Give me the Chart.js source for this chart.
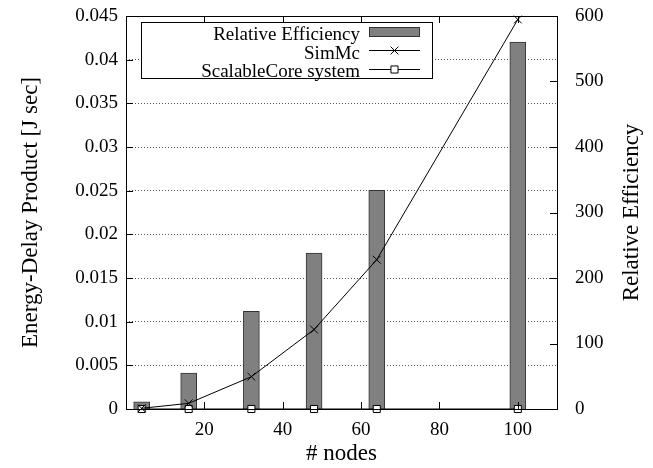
<!DOCTYPE html>
<html>
<head>
<meta charset="utf-8">
<title>Energy-Delay Product</title>
<style>
  html, body { margin: 0; padding: 0; background: #fff; }
  #wrap { width: 653px; height: 468px; }
</style>
</head>
<body>
<div id="wrap"><canvas id="edpChart" width="653" height="468"></canvas></div>

<script src="https://cdn.jsdelivr.net/npm/chart.js@4.4.0/dist/chart.umd.min.js"></script>
<script>
// values
var nodes = [4, 16, 32, 48, 64, 100];
var relativeEfficiency = [11, 55, 149, 238, 334, 560];
var simMc = [0.00008, 0.00065, 0.0037, 0.0091, 0.0171, 0.0446];
var scalableCore = [0, 0, 0, 0, 0, 0];

var xTicks = [20, 40, 60, 80, 100];
var leftTicks = [0, 0.005, 0.01, 0.015, 0.02, 0.025, 0.03, 0.035, 0.04, 0.045];
var rightTicks = [0, 100, 200, 300, 400, 500, 600];

var serif = "'Liberation Serif', 'DejaVu Serif', serif";

function points(ys) {
  return nodes.map(function (n, i) { return { x: n, y: ys[i] }; });
}

function useTicks(list) {
  return function (scale) {
    scale.ticks = list.map(function (v) { return { value: v }; });
  };
}

function fixWidth(w) {
  return function (s) {
    s.width = w;
    s.paddingTop = 0;
    s.paddingBottom = 0;
  };
}

// box round the plot and gnuplot-style inward tick marks
var framePlugin = {
  id: 'frame',
  afterDatasetsDraw: function (chart) {
    var ctx = chart.ctx, a = chart.chartArea;
    var sx = chart.scales.x, sy = chart.scales.y, sy1 = chart.scales.y1;
    var len = 7;
    ctx.save();
    ctx.strokeStyle = '#000';
    ctx.lineWidth = 1;
    ctx.beginPath();
    xTicks.forEach(function (v) {
      var px = Math.round(sx.getPixelForValue(v)) + 0.5;
      ctx.moveTo(px, a.bottom); ctx.lineTo(px, a.bottom - len);
      ctx.moveTo(px, a.top); ctx.lineTo(px, a.top + len);
    });
    leftTicks.forEach(function (v) {
      var py = Math.round(sy.getPixelForValue(v)) + 0.5;
      ctx.moveTo(a.left, py); ctx.lineTo(a.left + len, py);
    });
    rightTicks.forEach(function (v) {
      var py = Math.round(sy1.getPixelForValue(v)) + 0.5;
      ctx.moveTo(a.right, py); ctx.lineTo(a.right - len, py);
    });
    ctx.stroke();
    ctx.strokeRect(a.left + 0.5, a.top + 0.5, a.right - a.left, a.bottom - a.top);

    // right axis title reads bottom to top, like the left one
    ctx.fillStyle = '#000';
    ctx.font = '23px ' + serif;
    ctx.textAlign = 'center';
    ctx.textBaseline = 'middle';
    ctx.translate(632, (a.top + a.bottom) / 2);
    ctx.rotate(-Math.PI / 2);
    ctx.fillText('Relative Efficiency', 0, 0);
    ctx.restore();
  }
};

// legend box in the upper left of the plot, text right-aligned, sample on the right
var legendBox = {
  id: 'legendBox',
  afterDraw: function (chart) {
    var ctx = chart.ctx, a = chart.chartArea;
    var bx = a.left + 15, by = a.top + 6, bw = 291, bh = 56;
    var textRight = bx + 219, sx0 = bx + 228, sx1 = bx + 279;
    ctx.save();
    ctx.fillStyle = '#fff';
    ctx.fillRect(bx, by, bw, bh);
    ctx.strokeStyle = '#000';
    ctx.lineWidth = 1;
    ctx.strokeRect(bx + 0.5, by + 0.5, bw, bh);
    ctx.font = '19px ' + serif;
    ctx.textAlign = 'right';
    ctx.textBaseline = 'alphabetic';
    chart.data.datasets.forEach(function (ds, i) {
      var base = by + 18 + i * 18.7;
      var cy = Math.round(base - 8.5);
      ctx.fillStyle = '#000';
      ctx.fillText(ds.label, textRight, base);
      if (ds.type === 'bar') {
        ctx.fillStyle = ds.backgroundColor;
        ctx.fillRect(sx0, cy - 5, sx1 - sx0, 10);
        ctx.strokeStyle = ds.borderColor;
        ctx.strokeRect(sx0 + 0.5, cy - 4.5, sx1 - sx0 - 1, 9);
      } else {
        ctx.strokeStyle = '#000';
        ctx.beginPath();
        ctx.moveTo(sx0, cy + 0.5);
        ctx.lineTo(sx1, cy + 0.5);
        ctx.stroke();
        ctx.fillStyle = ds.pointBackgroundColor;
        ctx.strokeStyle = ds.pointBorderColor;
        ctx.lineWidth = 1;
        Chart.helpers.drawPoint(ctx, {
          pointStyle: ds.pointStyle, radius: ds.pointRadius, rotation: 0, borderWidth: 1
        }, (sx0 + sx1) / 2, cy + 0.5);
      }
    });
    ctx.restore();
  }
};

new Chart(document.getElementById('edpChart').getContext('2d'), {
  type: 'bar',
  data: {
    datasets: [{
      type: 'bar',
      label: 'Relative Efficiency',
      data: points(relativeEfficiency),
      yAxisID: 'y1',
      backgroundColor: '#808080',
      borderColor: '#333',
      borderWidth: 1,
      barThickness: 16,
      order: 3
    }, {
      type: 'line',
      label: 'SimMc',
      data: points(simMc),
      yAxisID: 'y',
      borderColor: '#000',
      borderWidth: 1,
      pointStyle: 'crossRot',
      pointRadius: 5.5,
      pointBorderWidth: 1,
      pointBorderColor: '#000',
      pointBackgroundColor: '#000',
      tension: 0,
      clip: false,
      order: 1
    }, {
      type: 'line',
      label: 'ScalableCore system',
      data: points(scalableCore),
      yAxisID: 'y',
      borderColor: '#000',
      borderWidth: 1,
      pointStyle: 'rect',
      pointRadius: 5,
      pointBorderWidth: 1,
      pointBorderColor: '#000',
      pointBackgroundColor: '#fff',
      tension: 0,
      clip: false,
      order: 2
    }]
  },
  options: {
    responsive: false,
    animation: false,
    devicePixelRatio: 1,
    layout: { padding: { top: 16, left: 0, right: 0, bottom: 0 } },
    plugins: { legend: { display: false }, tooltip: { enabled: false } },
    scales: {
      x: {
        type: 'linear',
        min: 0,
        max: 110,
        offset: false,
        afterBuildTicks: useTicks(xTicks),
        afterFit: function (s) { s.height = 59; s.paddingLeft = 0; s.paddingRight = 0; },
        grid: { display: false, drawTicks: false },
        border: { display: false },
        ticks: { color: '#000', padding: 10, font: { family: serif, size: 19 } },
        title: {
          display: true, text: '# nodes', color: '#000',
          padding: { top: 0, bottom: 0 }, font: { family: serif, size: 23 }
        }
      },
      y: {
        position: 'left',
        min: 0,
        max: 0.045,
        afterBuildTicks: useTicks(leftTicks),
        afterFit: fixWidth(126),
        grid: {
          drawTicks: false,
          color: function (c) {
            var v = c.tick ? c.tick.value : 0;
            return (v === 0 || v === 0.045) ? 'rgba(0,0,0,0)' : '#555';
          }
        },
        border: { display: false, dash: [1, 2] },
        ticks: {
          color: '#000', padding: 8, font: { family: serif, size: 19 },
          callback: function (v) { return String(+v.toFixed(3)); }
        },
        title: {
          display: true, text: 'Energy-Delay Product [J sec]', color: '#000',
          padding: { top: 17, bottom: 0 }, font: { family: serif, size: 23 }
        }
      },
      y1: {
        position: 'right',
        min: 0,
        max: 600,
        afterBuildTicks: useTicks(rightTicks),
        afterFit: fixWidth(96),
        grid: { display: false, drawOnChartArea: false, drawTicks: false },
        border: { display: false },
        ticks: { color: '#000', padding: 18, font: { family: serif, size: 19 } }
      }
    }
  },
  plugins: [framePlugin, legendBox]
});
</script>
</body>
</html>
